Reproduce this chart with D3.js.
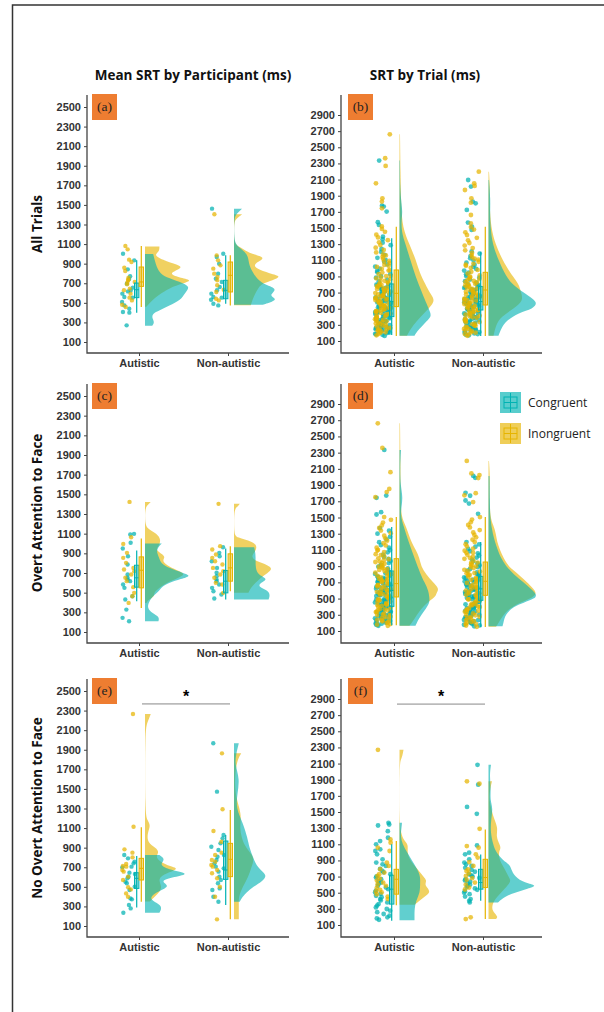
<!DOCTYPE html>
<meta charset="utf-8" />
<title>SRT raincloud plots - D3.js</title>
<style>
  body { margin: 0; background: #fff; }
  .title { font-family: "Open Sans", sans-serif; font-weight: bold; font-size: 13.5px; fill: #111; }
  .tag { font-family: "Liberation Serif", serif; font-size: 13.5px; fill: #222; }
  .legend text { font-family: "Open Sans", sans-serif; font-size: 12px; fill: #222; }
</style>
<body>
<svg width="604" height="1012"></svg>
<script src="https://d3js.org/d3.v7.min.js"></script>
<script>
const cats = ["Autistic", "Non-autistic"];
const conds = ["Congruent", "Inongruent"];
const colTitles = ["Mean SRT by Participant (ms)", "SRT by Trial (ms)"];
const rowTitles = ["All Trials", "Overt Attention to Face", "No Overt Attention to Face"];
const tags = ["(a)", "(b)", "(c)", "(d)", "(e)", "(f)"];
const ticksPart = [100, 300, 500, 700, 900, 1100, 1300, 1500, 1700, 1900, 2100, 2300, 2500];
const ticksTrial = [100, 300, 500, 700, 900, 1100, 1300, 1500, 1700, 1900, 2100, 2300, 2500, 2700, 2900];

// ---- (a) mean SRT by participant, all trials
const a_aut_con_pts = [1002, 934, 842, 771, 744, 696, 655, 627, 617, 594, 560, 553, 508, 474, 440, 406, 400, 270];
const a_aut_inc_pts = [1080, 1046, 941, 917, 859, 825, 757, 737, 730, 713, 706, 689, 645, 628, 594, 553, 525, 481, 457];
const a_non_con_pts = [1462, 1002, 968, 900, 798, 747, 713, 662, 628, 594, 560, 553, 532, 491, 474];
const a_non_inc_pts = [1404, 985, 934, 883, 849, 798, 764, 730, 679, 634, 611, 542, 525];
// boxes: [whisker low, q1, median, q3, whisker high]
const a_aut_con_box = [400, 553, 634, 702, 934];
const a_aut_inc_box = [457, 668, 713, 866, 1080];
const a_non_con_box = [491, 542, 628, 730, 985];
const a_non_inc_box = [474, 611, 781, 917, 985];
// densities: [ms, relative density]
const a_aut_con_den = [[265,.15],[300,.2],[340,.15],[390,.15],[420,.3],[470,.5],[530,.75],[600,.83],[660,.94],[700,.8],[750,.5],[800,.3],[900,.22],[1000,.17]];
const a_aut_inc_den = [[460,.03],[500,.1],[550,.2],[600,.35],[650,.5],[700,.8],[730,1],[760,.7],[800,.48],[850,.75],[880,.75],[920,.45],[985,.17],[1020,.3],[1075,.3]];
const a_non_con_den = [[480,.6],[530,.93],[570,.75],[600,.8],[650,.9],[700,.55],[800,.4],[900,.3],[1000,.3],[1080,.05],[1150,0],[1380,0],[1420,.08],[1462,.17]];
const a_non_inc_den = [[475,.35],[550,.4],[600,.45],[650,.5],[700,.6],[730,.8],[770,1],[800,.75],[850,.45],[900,.4],[960,.7],[1000,.35],[1050,.2],[1090,.03],[1150,0],[1330,0],[1360,.05],[1404,.17]];

// ---- (b) SRT by trial, all trials
const b_aut_con_pts = [2335,1777,1765,1703,1571,1538,1392,1361,1318,1287,1240,1203,1168,1131,1104,1082,1049,1021,996,968,951,927,902,884,861,838,812,797,776,758,741,722,709,688,671,657,640,622,611,594,578,563,549,531,518,503,489,472,458,441,427,412,398,381,366,352,337,321,309,293,278,262,247,231,218,204,189,176,163,
  702,655,598,571,540,512,486,455,433,418,392,371,349,333,305,287,268,252,239,226,211,197,183,745,768,790,633,617,606,589,557,526,497,463,447,385,358,315,296,273];
const b_aut_inc_pts = [2661,2364,2269,2054,1868,1827,1744,1520,1488,1452,1417,1383,1349,1322,1289,1256,1228,1197,1172,1143,1118,1092,1067,1043,1018,993,972,948,929,906,887,866,845,826,807,789,771,752,736,718,701,686,669,653,637,622,607,591,575,560,544,529,513,497,481,466,448,432,415,398,379,362,344,327,309,291,272,253,236,219,201,186,170,
  905,876,842,818,795,779,760,744,727,710,694,677,661,645,630,614,598,583,567,551,536,520,505,489,473,457,440,423,406,388,370,352,335,317,300,281,262,244,227,208,1160,1085,1032,980];
const b_non_con_pts = [2095,2013,1827,1806,1724,1567,1517,1476,1210,1183,1152,1124,1097,1071,1046,1019,993,972,947,926,903,884,862,841,823,801,784,766,748,730,713,697,681,664,648,633,617,602,588,573,558,544,529,515,501,486,471,456,441,426,410,394,377,360,343,327,308,291,273,255,237,219,202,186,170,
  792,757,739,722,705,689,672,656,641,625,609,595,580,566,551,537,522,508,493,478,463,448,433,418,402,386,369,352,335,318,300,282,264,246,228,211,194,178];
const b_non_inc_pts = [2198,2054,2021,1971,1868,1814,1661,1558,1512,1481,1446,1412,1378,1347,1314,1282,1251,1223,1192,1164,1137,1108,1082,1056,1031,1006,981,958,934,912,889,867,846,825,804,784,763,744,725,706,688,671,653,635,618,601,584,567,550,533,516,499,481,463,445,426,407,388,369,350,330,309,288,267,246,224,203,182,165,
  896,873,851,830,809,789,768,749,730,711,693,676,658,641,624,607,590,573,556,539,522,505,487,469,451,432,413,394,375,355,335,314,293,272,250,229,207,186,1120,1045];
const b_aut_con_box = [175, 402, 588, 807, 1372];
const b_aut_inc_box = [162, 526, 691, 980, 1517];
const b_non_con_box = [162, 484, 588, 774, 1207];
const b_non_inc_box = [162, 546, 732, 951, 1517];
const b_aut_con_den = [[165,.3],[220,.35],[280,.45],[350,.55],[400,.63],[450,.62],[550,.55],[700,.45],[900,.32],[1100,.22],[1300,.12],[1450,.04],[1600,.04],[1700,.06],[1800,.04],[2000,.01],[2335,.01]];
const b_aut_inc_den = [[165,.15],[250,.22],[350,.35],[450,.5],[550,.66],[620,.7],[700,.6],[800,.52],[950,.4],[1100,.33],[1300,.2],[1500,.06],[1800,.03],[2200,.02],[2661,.01]];
const b_non_con_den = [[165,.2],[250,.25],[350,.35],[450,.6],[500,.9],[570,.97],[620,.9],[700,.7],[800,.48],[900,.35],[1100,.2],[1300,.08],[1500,.04],[1700,.03],[1850,.04],[2095,.01]];
const b_non_inc_den = [[165,.1],[300,.15],[400,.25],[500,.5],[600,.7],[700,.65],[780,.62],[850,.55],[950,.43],[1100,.28],[1300,.14],[1500,.05],[1800,.02],[2000,.03],[2198,.01]];

// ---- (c) mean SRT by participant, overt attention to face
const c_aut_con_pts = [1098, 1091, 1007, 949, 871, 786, 684, 651, 634, 617, 583, 549, 464, 430, 328, 244, 210];
const c_aut_inc_pts = [1423, 1064, 996, 905, 854, 803, 752, 735, 718, 684, 651, 617, 556, 498, 464, 396];
const c_non_con_pts = [962, 905, 871, 820, 752, 702, 668, 634, 617, 583, 549, 515, 481, 440];
const c_non_inc_pts = [1403, 973, 939, 888, 854, 820, 786, 752, 718, 684, 651, 600, 583, 498];
const c_aut_con_box = [413, 556, 651, 779, 928];
const c_aut_inc_box = [345, 549, 728, 864, 1051];
const c_non_con_box = [430, 498, 617, 725, 949];
const c_non_inc_box = [515, 617, 752, 895, 973];
const c_aut_con_den = [[210,.28],[250,.3],[280,.2],[330,.06],[380,.06],[440,.12],[480,.2],[520,.3],[560,.35],[600,.5],[640,.75],[670,.97],[700,.8],[750,.5],[800,.33],[850,.3],[900,.25],[950,.25],[1000,.35]];
const c_aut_inc_den = [[396,.03],[430,.08],[464,.2],[500,.18],[550,.3],[600,.45],[650,.7],[690,.85],[730,.66],[780,.45],[830,.35],[870,.45],[930,.2],[980,.3],[1040,.33],[1100,.25],[1150,.05],[1200,0],[1370,0],[1400,.08],[1423,.12]];
const c_non_con_den = [[430,.72],[470,.75],[520,.72],[560,.5],[600,.55],[640,.72],[680,.5],[750,.45],[820,.45],[900,.45],[962,.42]];
const c_non_inc_den = [[498,.3],[550,.35],[600,.45],[650,.55],[700,.7],[740,.8],[780,.72],[820,.45],[870,.35],[920,.45],[970,.48],[1020,.4],[1060,.05],[1100,0],[1340,0],[1370,.06],[1403,.12]];

// ---- (d) SRT by trial, overt attention to face
const d_aut_con_pts = [2334,1771,1743,1566,1537,1370,1338,1301,1262,1229,1196,1160,1127,1099,1071,1042,1013,989,962,938,914,893,871,848,826,804,783,763,744,726,707,690,672,655,639,621,604,588,571,556,540,524,509,494,478,462,446,431,415,399,384,368,352,336,320,304,288,272,256,240,224,208,193,178,165,
  812,771,735,698,664,630,596,563,531,501,470,438,407,376,345,314,283,252,221,190,176,755,718,681,647,613,580,548,516,486,453,422,391,360,329,297,266,235,204];
const d_aut_inc_pts = [2662,2358,2059,1853,1813,1751,1505,1471,1437,1402,1371,1339,1306,1276,1243,1214,1184,1156,1128,1101,1073,1048,1022,997,973,951,928,906,884,862,841,820,800,780,761,742,723,705,687,669,651,634,617,600,583,566,549,532,515,498,480,463,445,427,409,390,372,353,334,315,296,276,257,238,219,199,180,165,
  1092,1037,985,938,894,853,815,778,744,712,680,648,616,585,554,523,492,461,430,399,367,335,303,271,239,207,185,956,873,797,727,664,602,541,480,418,356,294,232];
const d_non_con_pts = [2013,1989,1804,1768,1710,1672,1545,1197,1168,1139,1112,1084,1058,1031,1006,981,957,933,910,887,865,843,822,801,781,761,741,722,703,685,667,649,631,614,597,580,563,547,530,514,497,481,464,448,431,414,397,380,362,344,326,308,290,271,253,234,215,196,177,158,
  790,751,712,676,641,607,574,541,509,477,445,413,381,349,317,285,253,221,189,169,732,694,658,624,590,557,525,493,461,429,397,365,333,301,269,237,205];
const d_non_inc_pts = [2198,2044,2023,1987,1800,1774,1690,1505,1474,1440,1408,1377,1345,1315,1285,1255,1226,1198,1170,1143,1116,1090,1064,1039,1014,990,966,943,920,898,876,854,833,812,791,771,751,731,712,692,673,654,636,617,599,581,563,545,527,509,491,472,454,435,416,397,378,358,338,318,297,276,255,233,211,189,168,152,
  1066,1003,944,889,838,790,744,701,660,621,583,546,510,474,438,402,366,330,294,258,222,186,915,815,725,642,565,491,419,347,275,203];
const d_aut_con_box = [171, 404, 600, 840, 1382];
const d_aut_inc_box = [171, 520, 684, 992, 1505];
const d_non_con_box = [150, 478, 620, 774, 1197];
const d_non_inc_box = [150, 540, 713, 951, 1505];
const d_aut_con_den = [[165,.32],[250,.38],[350,.5],[440,.6],[500,.6],[600,.58],[700,.5],[800,.42],[1000,.3],[1200,.18],[1400,.08],[1500,.03],[1600,.03],[1750,.07],[1900,.02],[2100,.01],[2334,.03]];
const d_aut_inc_den = [[165,.2],[250,.3],[350,.4],[450,.55],[520,.72],[560,.73],[620,.8],[700,.67],[800,.53],[900,.43],[1000,.4],[1100,.33],[1200,.23],[1400,.13],[1500,.03],[1800,.02],[2200,.02],[2662,.01]];
const d_non_con_den = [[158,.28],[200,.3],[300,.33],[400,.5],[450,.7],[500,.93],[550,.97],[620,.85],[700,.7],[800,.5],[900,.35],[1000,.25],[1100,.18],[1300,.08],[1500,.03],[1700,.03],[2013,.02]];
const d_non_inc_den = [[152,.15],[200,.2],[300,.3],[400,.45],[500,.85],[560,.97],[620,.9],[700,.77],[780,.63],[850,.5],[900,.4],[1000,.3],[1100,.23],[1200,.17],[1300,.15],[1400,.1],[1500,.03],[1800,.02],[2000,.03],[2198,.01]];

// ---- (e) mean SRT by participant, no overt attention to face
const e_aut_con_pts = [825, 791, 757, 740, 706, 699, 645, 631, 604, 587, 553, 536, 502, 467, 382, 372, 314, 280, 236];
const e_aut_inc_pts = [2265, 1114, 883, 849, 801, 733, 713, 706, 672, 655, 604, 570, 495, 474, 433, 399];
const e_non_con_pts = [1966, 1472, 1029, 995, 944, 910, 876, 825, 808, 774, 740, 706, 689, 655, 604, 570, 536, 484, 468, 399, 348];
const e_non_inc_pts = [1863, 1292, 1070, 961, 849, 825, 774, 757, 723, 706, 672, 638, 587, 501, 399, 168];
const e_aut_con_box = [290, 484, 587, 644, 815];
const e_aut_inc_box = [348, 570, 689, 791, 1108];
const e_non_con_box = [314, 576, 672, 968, 1029];
const e_non_inc_box = [168, 604, 781, 944, 1285];
const e_aut_con_den = [[236,.3],[280,.35],[320,.31],[370,.1],[420,.15],[470,.35],[510,.52],[560,.3],[600,.6],[635,.97],[680,.45],[730,.3],[780,.43],[825,.3]];
const e_aut_inc_den = [[350,.1],[400,.2],[450,.31],[500,.35],[550,.3],[600,.3],[650,.5],[690,.73],[720,.43],[800,.2],[850,.3],[900,.23],[950,.05],[1050,.05],[1130,.12],[1180,.05],[1250,0],[2100,0],[2180,.05],[2265,.12]];
const e_non_con_den = [[348,.12],[380,.15],[440,.25],[500,.4],[560,.6],[620,.7],[700,.48],[800,.4],[900,.32],[1000,.28],[1150,.19],[1300,.04],[1450,.07],[1600,.12],[1750,.02],[1850,.04],[1966,.1]];
const e_non_inc_den = [[168,.1],[250,.1],[350,.1],[400,.1],[500,.18],[600,.3],[700,.36],[800,.44],[900,.24],[1000,.16],[1100,.12],[1200,.15],[1300,.12],[1450,.02],[1650,.02],[1800,.07],[1863,.15]];

// ---- (f) SRT by trial, no overt attention to face
const f_aut_con_pts = [1366,1345,1333,1263,1181,1140,1099,1037,1017,976,914,873,852,832,795,770,752,729,703,688,667,644,626,610,585,566,544,527,503,486,462,445,421,404,380,359,341,318,298,277,259,236,215,195,182,165];
const f_aut_inc_pts = [2270,1160,1119,1058,1017,873,832,791,749,729,708,675,652,626,605,585,560,536,515,503,480,452,421];
const f_non_con_pts = [2085,1838,1563,1477,1086,996,976,914,873,852,832,808,782,760,729,715,700,682,667,652,638,618,600,585,570,553,536,518,500,482,452,421,400,380];
const f_non_inc_pts = [1880,1850,1292,1078,1058,976,935,880,832,790,770,740,708,680,660,626,600,564,540,195,174];
const f_aut_con_box = [153, 359, 544, 716, 1099];
const f_aut_inc_box = [346, 482, 667, 790, 1140];
const f_non_con_box = [400, 544, 626, 790, 975];
const f_non_inc_box = [174, 564, 688, 914, 1284];
const f_aut_con_den = [[160,.3],[200,.3],[300,.3],[400,.33],[500,.41],[600,.41],[700,.42],[800,.35],[900,.25],[1000,.15],[1100,.06],[1200,.02],[1300,.04],[1366,.05]];
const f_aut_inc_den = [[350,.3],[400,.4],[450,.5],[500,.61],[550,.58],[600,.5],[650,.55],[700,.48],[800,.35],[900,.21],[1000,.15],[1100,.18],[1150,.08],[1250,.03],[1350,0],[2100,0],[2150,.03],[2200,.06],[2270,.08]];
const f_non_con_den = [[380,.19],[450,.32],[500,.52],[550,.79],[590,.99],[620,.72],[700,.52],[800,.45],[850,.42],[900,.29],[1000,.15],[1100,.09],[1250,.04],[1400,.05],[1550,.09],[1650,.03],[1800,.05],[1950,.02],[2085,.05]];
const f_non_inc_den = [[174,.15],[200,.19],[250,.12],[300,.06],[400,.1],[500,.25],[600,.4],[650,.45],[700,.4],[800,.32],[900,.22],[1000,.2],[1050,.25],[1100,.22],[1200,.15],[1300,.19],[1400,.12],[1600,.02],[1750,.02],[1880,.07]];

// significance bars (ms level of the bar) for (e) and (f)
const sigLevels = { e: 2368, f: 2837 };

const teal = "#00b2b2", gold = "#e6b400";
const colors = [teal, gold];
const svg = d3.select("svg");

// outer frame
svg.append("path").attr("d", "M12.5,1012V5H604")
  .attr("fill", "none").attr("stroke", "#333").attr("stroke-width", 1.5);

// column / row titles
colTitles.forEach((t, i) => {
  svg.append("text").attr("class", "title")
    .attr("x", i ? 425 : 193).attr("y", 80)
    .attr("text-anchor", "middle").text(t);
});
const rowMid = [224, 513, 808];
rowTitles.forEach((t, i) => {
  svg.append("text").attr("class", "title")
    .attr("transform", `translate(42,${rowMid[i]}) rotate(-90)`)
    .attr("text-anchor", "middle").text(t);
});

function series(p) {
  return [
    { cat: cats[0], cond: 0, pts: eval(p + "_aut_con_pts"), box: eval(p + "_aut_con_box"), den: eval(p + "_aut_con_den") },
    { cat: cats[0], cond: 1, pts: eval(p + "_aut_inc_pts"), box: eval(p + "_aut_inc_box"), den: eval(p + "_aut_inc_den") },
    { cat: cats[1], cond: 0, pts: eval(p + "_non_con_pts"), box: eval(p + "_non_con_box"), den: eval(p + "_non_con_den") },
    { cat: cats[1], cond: 1, pts: eval(p + "_non_inc_pts"), box: eval(p + "_non_inc_box"), den: eval(p + "_non_inc_den") }
  ];
}

const panels = [
  { id: "a", trial: false, x0: 87, x1: 289, top: 95, bottom: 353 },
  { id: "b", trial: true, x0: 341, x1: 542, top: 95, bottom: 353 },
  { id: "c", trial: false, x0: 87, x1: 289, top: 384, bottom: 643 },
  { id: "d", trial: true, x0: 341, x1: 542, top: 384, bottom: 643 },
  { id: "e", trial: false, x0: 87, x1: 289, top: 679, bottom: 937 },
  { id: "f", trial: true, x0: 341, x1: 542, top: 679, bottom: 937 }
];

// deterministic horizontal jitter (position only, not data)
const jit = (i, s) => {
  const v = Math.sin((i + 1) * 12.9898 + s * 78.233) * 43758.5453;
  return v - Math.floor(v);
};

function styleAxisText(sel) {
  sel.selectAll("text")
    .attr("font-family", "'Liberation Sans', Arial, sans-serif")
    .attr("font-weight", "bold").attr("font-size", 11).attr("fill", "#333");
  sel.selectAll("line").attr("stroke", "#444");
}

panels.forEach((P, pi) => {
  const g = svg.append("g");
  const y = P.trial
    ? d3.scaleLinear().domain([100, 2900]).range([P.bottom - 12, P.top + 20])
    : d3.scaleLinear().domain([100, 2500]).range([P.bottom - 11, P.top + 12]);
  const x = d3.scalePoint().domain(cats)
    .range(P.trial ? [P.x0 + 53, P.x1 - 59] : [P.x0 + 52, P.x1 - 61]);
  const w = d3.scaleLinear().domain([0, 1]).range([0, P.trial ? 50 : 48]);
  const data = series(P.id);

  // half-violin densities (incongruent first, congruent on top)
  [1, 0].forEach(c => {
    data.filter(s => s.cond === c).forEach(s => {
      const base = x(s.cat) + (P.trial ? 5.5 : 6);
      const area = d3.area().curve(d3.curveBasis)
        .y(d => y(d[0])).x0(base).x1(d => base + w(d[1]));
      g.append("path").attr("d", area(s.den))
        .attr("fill", colors[c]).attr("fill-opacity", 0.62);
    });
  });

  // jittered raw points
  [0, 1].forEach(c => {
    data.filter(s => s.cond === c).forEach(s => {
      const spread = P.trial ? 16 : 13, off = P.trial ? 3 : 4;
      g.selectAll(null).data(s.pts).join("circle")
        .attr("cx", (d, i) => x(s.cat) - off - jit(i, c + pi) * spread)
        .attr("cy", d => y(d))
        .attr("r", P.trial ? 2.4 : 2.2)
        .attr("fill", colors[c]).attr("fill-opacity", 0.72);
    });
  });

  // box plots
  data.forEach(s => {
    const bx = x(s.cat) + (s.cond ? 2.3 : -2.3);
    const col = colors[s.cond];
    const b = s.box;
    g.append("line").attr("x1", bx).attr("x2", bx)
      .attr("y1", y(b[0])).attr("y2", y(b[4]))
      .attr("stroke", col).attr("stroke-width", 1.2);
    g.append("rect").attr("x", bx - 2.2).attr("width", 4.4)
      .attr("y", y(b[3])).attr("height", y(b[1]) - y(b[3]))
      .attr("fill", col).attr("fill-opacity", 0.45)
      .attr("stroke", col).attr("stroke-width", 1);
    g.append("line").attr("x1", bx - 2.2).attr("x2", bx + 2.2)
      .attr("y1", y(b[2])).attr("y2", y(b[2]))
      .attr("stroke", col).attr("stroke-width", 1);
  });

  // axes
  const ya = g.append("g").attr("transform", `translate(${P.x0},0)`)
    .call(d3.axisLeft(y).tickValues(P.trial ? ticksTrial : ticksPart)
      .tickFormat(d3.format("d")).tickSize(3).tickPadding(3).tickSizeOuter(0));
  ya.select(".domain").remove();
  styleAxisText(ya);
  const xa = g.append("g").attr("transform", `translate(0,${P.bottom})`)
    .call(d3.axisBottom(x).tickSize(3).tickPadding(3).tickSizeOuter(0));
  xa.select(".domain").remove();
  styleAxisText(xa);
  g.append("path").attr("d", `M${P.x0},${P.top}V${P.bottom}H${P.x1}`)
    .attr("fill", "none").attr("stroke", "#444").attr("stroke-width", 1.3);

  // panel tag
  const tx = P.x0 + (P.trial ? 7 : 5);
  g.append("rect").attr("x", tx).attr("y", P.top - 1).attr("width", 25).attr("height", 26)
    .attr("fill", "#ee7d31");
  g.append("text").attr("class", "tag").attr("x", tx + 12.5).attr("y", P.top + 16)
    .attr("text-anchor", "middle").text(tags[pi]);

  // significance bar
  if (sigLevels[P.id] !== undefined) {
    const sy = y(sigLevels[P.id]);
    g.append("line").attr("x1", x(cats[0]) + 3).attr("x2", x(cats[1]) + 2)
      .attr("y1", sy).attr("y2", sy).attr("stroke", "#888").attr("stroke-width", 1);
    g.append("text").attr("x", (x(cats[0]) + x(cats[1])) / 2 + 2.5).attr("y", sy - 2)
      .attr("text-anchor", "middle").attr("font-weight", "bold").attr("font-size", 16)
      .attr("font-family", "'Liberation Sans', Arial, sans-serif")
      .text("*");
  }

  // legend inside (d)
  if (P.id === "d") {
    const lg = g.append("g").attr("class", "legend");
    conds.forEach((name, i) => {
      const ly = 392 + i * 31, lx = 500;
      lg.append("rect").attr("x", lx).attr("y", ly).attr("width", 21).attr("height", 21)
        .attr("fill", colors[i]).attr("fill-opacity", 0.65);
      lg.append("rect").attr("x", lx + 4).attr("y", ly + 5).attr("width", 13).attr("height", 11)
        .attr("fill", "none").attr("stroke", colors[i]).attr("stroke-width", 1);
      lg.append("line").attr("x1", lx + 10.5).attr("x2", lx + 10.5).attr("y1", ly + 1).attr("y2", ly + 20)
        .attr("stroke", colors[i]).attr("stroke-width", 1);
      lg.append("line").attr("x1", lx + 4).attr("x2", lx + 17).attr("y1", ly + 10.5).attr("y2", ly + 10.5)
        .attr("stroke", colors[i]).attr("stroke-width", 1);
      lg.append("text").attr("x", lx + 28).attr("y", ly + 15).text(name);
    });
  }
});
</script>
</body>
